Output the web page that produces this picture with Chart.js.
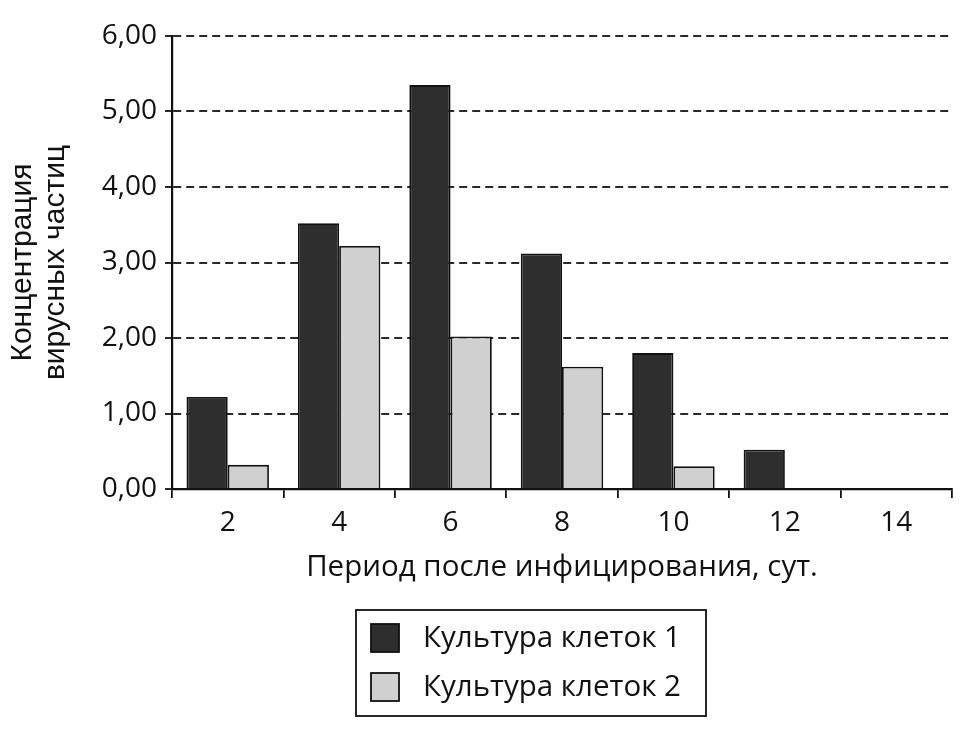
<!DOCTYPE html>
<html><head><meta charset="utf-8">
<script src="https://cdn.jsdelivr.net/npm/chart.js@4"></script>
<style>html,body{margin:0;padding:0;background:#fff}canvas{display:block}</style>
</head><body>
<canvas id="c" width="962" height="738"></canvas>
<script>
const categories = ['2','4','6','8','10','12','14'];
const seriesNames = ['Культура клеток 1','Культура клеток 2'];
const culture1 = [1.22, 3.52, 5.35, 3.12, 1.80, 0.52, 0];
const culture2 = [0.32, 3.22, 2.02, 1.62, 0.30, 0, 0];
const yTitle = ['Концентрация','вирусных частиц'];
const xTitle = 'Период после инфицирования, сут.';

const FONT = '"Open Sans", "Noto Sans", sans-serif';

const boxLegend = {
  id: 'boxLegend',
  afterDraw(chart) {
    const ctx = chart.ctx;
    const x0 = 356, y0 = 610, w = 350, h = 106;
    ctx.save();
    ctx.strokeStyle = '#111'; ctx.lineWidth = 1.8;
    ctx.strokeRect(x0, y0, w, h);
    ctx.font = '29.5px ' + FONT;
    ctx.textBaseline = 'middle';
    chart.data.datasets.forEach((ds, i) => {
      const cy = 638 + i * 49;
      ctx.fillStyle = ds.backgroundColor;
      ctx.fillRect(371, cy - 14, 28, 28);
      ctx.strokeStyle = '#111'; ctx.lineWidth = 1.8;
      ctx.strokeRect(371, cy - 14, 28, 28);
      ctx.fillStyle = '#111';
      ctx.fillText(ds.label, 423, cy + 1);
    });
    ctx.restore();
  }
};

new Chart(document.getElementById('c'), {
  type: 'bar',
  data: {
    labels: categories,
    datasets: [
      { label: seriesNames[0], data: culture1, backgroundColor: '#2e2e2e', borderColor: '#111', borderWidth: 1.8, borderSkipped: 'start' },
      { label: seriesNames[1], data: culture2, backgroundColor: '#d0d0d0', borderColor: '#111', borderWidth: 1.8, borderSkipped: 'start' }
    ]
  },
  options: {
    responsive: false,
    animation: false,
    devicePixelRatio: 1,
    layout: { padding: { left: 0, right: 10, top: 36, bottom: 150 } },
    datasets: { bar: { categoryPercentage: 0.74, barPercentage: 1.0 } },
    plugins: { legend: { display: false }, tooltip: { enabled: false } },
    scales: {
      x: {
        offset: true,
        afterFit(scale) { scale.height = 99; },
        grid: { display: true, drawOnChartArea: false, drawTicks: true, tickLength: 9, color: '#111', lineWidth: 1.8, offset: true },
        border: { display: true, color: '#111', width: 2.2 },
        ticks: { color: '#111', font: { family: FONT, size: 28 }, padding: 8 },
        title: { display: true, text: xTitle, color: '#111', font: { family: FONT, size: 29.5 }, padding: { top: 0, bottom: 3 } }
      },
      y: {
        min: 0, max: 6,
        afterFit(scale) { scale.width = 172; },
        grid: { display: true, color: '#2a2a2a', lineWidth: 2, tickLength: 7, drawTicks: true },
        border: { display: true, color: '#111', width: 2.2, dash: [8, 5] },
        ticks: { stepSize: 1, color: '#111', font: { family: FONT, size: 28 }, padding: 8,
          callback: v => Number(v).toFixed(2).replace('.', ',') },
        title: { display: true, text: yTitle, color: '#111', font: { family: '"Liberation Sans", Arial, sans-serif', size: 30, lineHeight: 1.1 }, padding: { top: 6, bottom: 0 } }
      }
    }
  },
  plugins: [boxLegend]
});
</script>
</body></html>
